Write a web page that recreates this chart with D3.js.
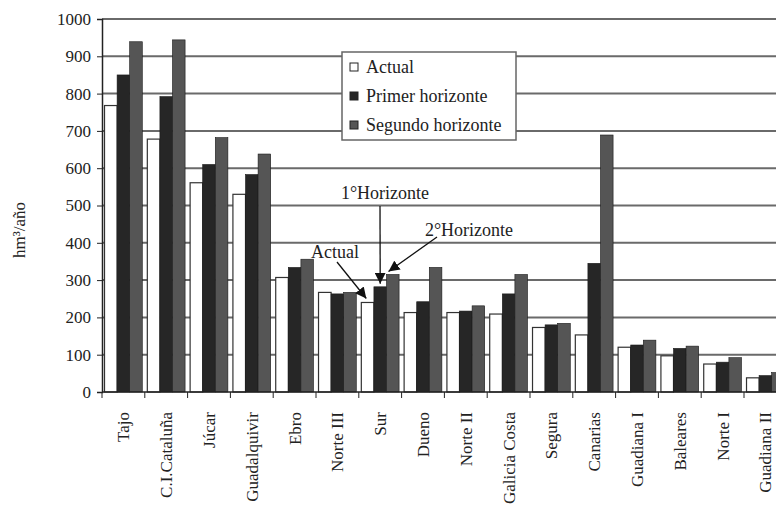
<!DOCTYPE html>
<html><head><meta charset="utf-8">
<script src="https://cdn.jsdelivr.net/npm/d3@7"></script>
<style>
html,body{margin:0;padding:0;background:#fff;overflow:hidden}
</style></head>
<body>
<svg id="c" width="776" height="510"></svg>
<script>
const categories = ["Tajo","C.I.Cataluña","Júcar","Guadalquivir","Ebro","Norte III","Sur","Dueno","Norte II","Galicia Costa","Segura","Canarias","Guadiana I","Baleares","Norte I","Guadiana II"];
const seriesNames = ["Actual","Primer horizonte","Segundo horizonte"];
const actual  = [768,678,561,530,307,267,240,213,213,209,173,153,120,97,75,38];
const primer  = [850,792,610,583,334,263,282,242,217,263,180,345,126,117,80,44];
const segundo = [939,944,682,638,356,267,315,334,231,315,184,689,139,123,92,52];
const yTicks = [0,100,200,300,400,500,600,700,800,900,1000];
const colors = ["#ffffff","#262626","#555555"];
const yLabel = "hm³/año";
const annotations = [
  {text:"1°Horizonte", cat:"Sur", s:1, tx:385, ty:199, from:[380,206]},
  {text:"2°Horizonte", cat:"Sur", s:2, tx:469, ty:236, from:[437,237]},
  {text:"Actual",      cat:"Sur", s:0, tx:335, ty:258, from:[337,262]}
];
const FONT = "'Liberation Serif','Times New Roman','DejaVu Serif',serif";

const svg = d3.select("#c");
const mLeft = 102, mBottom = 392, mTop = 19;
const x = d3.scaleBand().domain(categories).range([mLeft, mLeft + 16*42.8]).paddingInner(0).paddingOuter(0);
const x1 = d3.scaleBand().domain(seriesNames).range([0, x.bandwidth()]).paddingInner(0).paddingOuter(0.2);
const y = d3.scaleLinear().domain([0,1000]).range([mBottom, mTop]);

// gridlines
svg.append("g").selectAll("line").data(yTicks.filter(d=>d>0)).join("line")
  .attr("x1", mLeft).attr("x2", 776)
  .attr("y1", d=>y(d)).attr("y2", d=>y(d))
  .attr("stroke","#6a6a6a").attr("stroke-width",2);

// bars
const data = [actual, primer, segundo];
const g = svg.append("g");
seriesNames.forEach((s, si) => {
  g.selectAll(null).data(categories).join("rect")
    .attr("x", (c)=> x(c) + x1(s))
    .attr("y", (c,i)=> y(data[si][i]))
    .attr("width", x1.bandwidth())
    .attr("height", (c,i)=> mBottom - y(data[si][i]))
    .attr("fill", colors[si])
    .attr("stroke", si===0 ? "#333" : "#1a1a1a")
    .attr("stroke-width", si===0 ? 1.2 : 0.6);
});

// y axis
const yAxis = d3.axisLeft(y).tickValues(yTicks).tickFormat(d3.format("d")).tickSize(5).tickPadding(6);
const ya = svg.append("g").attr("transform",`translate(${mLeft},0)`).call(yAxis);
ya.attr("font-family", null);
ya.select(".domain").attr("stroke","#222").attr("stroke-width",1.5);
ya.selectAll(".tick line").attr("stroke","#222");
ya.selectAll("text").style("font-family",FONT).style("font-size","17px").attr("fill","#222");

// x axis
const xa = svg.append("g").attr("transform",`translate(0,${mBottom})`);
xa.append("line").attr("x1",mLeft).attr("x2",776).attr("y1",0).attr("y2",0).attr("stroke","#222").attr("stroke-width",1.5);
xa.selectAll("line.t").data(categories).join("line").attr("class","t")
  .attr("x1", c=>x(c)).attr("x2", c=>x(c)).attr("y1",0).attr("y2",6).attr("stroke","#222");
xa.selectAll("text.lab").data(categories).join("text").attr("class","lab")
  .attr("transform", c=>`translate(${x(c)+x.bandwidth()/2+6},${20}) rotate(-90)`)
  .attr("text-anchor","end").style("font-family",FONT).style("font-size","17px").attr("fill","#222").text(c=>c);

// y label
svg.append("text").attr("transform","translate(25,230) rotate(-90)")
  .attr("text-anchor","middle").style("font-family",FONT).style("font-size","17px").attr("fill","#222").text(yLabel);

// legend
const lg = svg.append("g").attr("transform","translate(342,52)");
lg.append("rect").attr("width",174).attr("height",88).attr("fill","#fff").attr("stroke","#666").attr("stroke-width",1.5);
seriesNames.forEach((s,i)=>{
  const cy = 15 + i*29;
  lg.append("rect").attr("x",8).attr("y",cy-4).attr("width",8).attr("height",8)
    .attr("fill",colors[i]).attr("stroke","#222").attr("stroke-width",1);
  lg.append("text").attr("x",24).attr("y",cy+6).style("font-family",FONT).style("font-size","18px").attr("fill","#222").text(s);
});

// annotations
const defs = svg.append("defs");
defs.append("marker").attr("id","ah").attr("viewBox","0 0 10 10").attr("refX",10).attr("refY",5)
  .attr("markerWidth",11).attr("markerHeight",11).attr("markerUnits","userSpaceOnUse").attr("orient","auto")
  .append("path").attr("d","M0,0 L10,5 L0,10 Z").attr("fill","#111");
annotations.forEach(a=>{
  const ci = categories.indexOf(a.cat);
  const tipX = a.s===0 ? x(a.cat)+x1(seriesNames[0])+5 : a.s===1 ? x(a.cat)+x1(seriesNames[1])+x1.bandwidth()/2 : x(a.cat)+x1(seriesNames[2])+2;
  const val = data[a.s][ci];
  const tipY = y(val) - 3 + (a.s===0 ? -1 : 0);
  svg.append("line").attr("x1",a.from[0]).attr("y1",a.from[1]).attr("x2",tipX).attr("y2",tipY)
    .attr("stroke","#111").attr("stroke-width",1.3).attr("marker-end","url(#ah)");
  svg.append("text").attr("x",a.tx).attr("y",a.ty).attr("text-anchor","middle")
    .style("font-family",FONT).style("font-size","18px").attr("fill","#222").text(a.text);
});
</script>
</body></html>
